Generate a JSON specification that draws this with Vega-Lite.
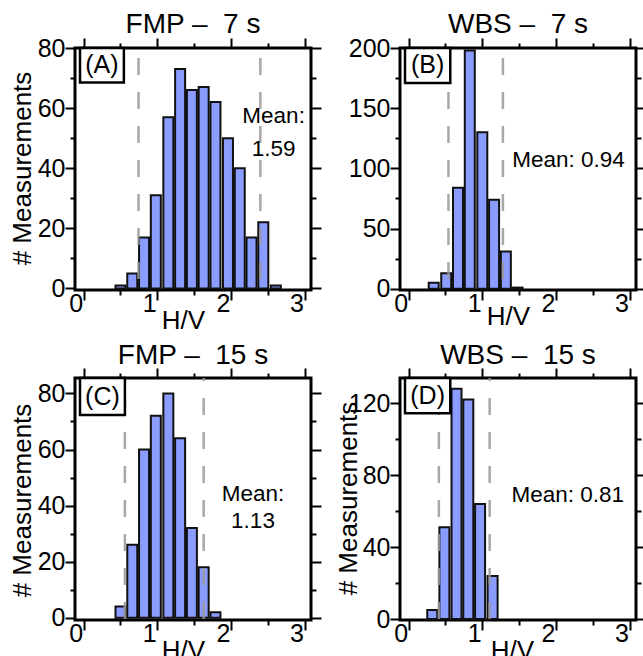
{
  "$schema": "https://vega.github.io/schema/vega-lite/v6.json",
  "padding": {"left": 7, "top": 9, "right": -5, "bottom": -8},
  "columns": 2,
  "spacing": {"row": 88, "column": 89},
  "bounds": "flush",
  "config": {
    "view": {"stroke": "black", "strokeWidth": 3},
    "axis": {"domain": false, "grid": false, "tickColor": "black", "tickWidth": 2, "labelFont": "Liberation Sans", "labelFontSize": 25, "labelColor": "black", "labelFlush": false, "labelOverlap": false, "titleFont": "Liberation Sans", "titleFontSize": 26, "titleFontWeight": "normal", "titleColor": "black"},
    "title": {"font": "Liberation Sans", "fontSize": 28, "fontWeight": "normal", "color": "black", "baseline": "alphabetic", "offset": -3, "anchor": "middle"},
    "text": {"font": "Liberation Sans", "color": "black"}
  },
  "concat": [
    {
      "title": "FMP –\u00a0 7 s",
      "width": 236, "height": 242,
      "resolve": {"axis": {"x": "independent", "y": "independent"}},
      "layer": [
        {
          "data": {"values": [
            {"hv": 0.50, "n": 1}, {"hv": 0.66, "n": 5}, {"hv": 0.82, "n": 17}, {"hv": 0.98, "n": 31},
            {"hv": 1.15, "n": 57}, {"hv": 1.31, "n": 73}, {"hv": 1.47, "n": 66}, {"hv": 1.63, "n": 67},
            {"hv": 1.79, "n": 62}, {"hv": 1.96, "n": 50}, {"hv": 2.12, "n": 40}, {"hv": 2.28, "n": 17},
            {"hv": 2.44, "n": 22}, {"hv": 2.61, "n": 1}
          ]},
          "mark": {"type": "bar", "size": 10, "fill": "#8b9cff", "stroke": "#111111", "strokeWidth": 2},
          "encoding": {
            "x": {"field": "hv", "type": "quantitative", "scale": {"domain": [-0.05, 3.02], "nice": false, "zero": false},
              "axis": {"orient": "bottom", "values": [0, 0.5, 1, 1.5, 2, 2.5, 3], "labelExpr": "datum.value % 1 === 0 ? '' + datum.value : ''", "tickSize": {"condition": {"test": "datum.value % 1 === 0", "value": 10}, "value": 5}, "labelOffset": -8, "labelPadding": -9, "labelBaseline": "top", "title": "H/V", "titleX": 108, "titleY": 38, "titleBaseline": "alphabetic", "titleAlign": "center"}},
            "y": {"field": "n", "type": "quantitative", "scale": {"domain": [-0.5, 80], "nice": false, "zero": false},
              "axis": {"orient": "left", "values": [0, 10, 20, 30, 40, 50, 60, 70, 80], "labelExpr": "datum.value % 20 === 0 ? '' + datum.value : ''", "tickSize": {"condition": {"test": "datum.value % 20 === 0", "value": 10}, "value": 5}, "labelPadding": 0, "labelBaseline": "middle", "title": "# Measurements", "titleX": -45, "titleY": 120, "titleBaseline": "alphabetic", "titleAngle": -90, "titleAlign": "center"}}
          }
        },
        {
          "data": {"values": [{"v": 0.745}, {"v": 2.40}]},
          "mark": {"type": "rule", "color": "#999999", "strokeWidth": 2.5, "strokeDash": [17, 17], "strokeDashOffset": 24, "opacity": 0.85},
          "encoding": {
            "x": {"field": "v", "type": "quantitative", "scale": {"domain": [-0.05, 3.02], "nice": false, "zero": false},
              "axis": {"orient": "top", "values": [0, 0.5, 1, 1.5, 2, 2.5, 3], "labels": false, "tickSize": {"condition": {"test": "datum.value % 1 === 0", "value": 10}, "value": 5}, "title": null}}
          }
        },
        {
          "data": {"values": [{"t": "Mean:\n1.59"}]},
          "mark": {"type": "text", "fontSize": 22.5, "lineBreak": "\n", "lineHeight": 33, "align": "center", "baseline": "middle"},
          "encoding": {
            "x": {"datum": 2.58, "type": "quantitative", "scale": {"domain": [-0.05, 3.02], "nice": false, "zero": false}, "axis": null},
            "y": {"datum": 57.5, "type": "quantitative", "scale": {"domain": [-0.5, 80], "nice": false, "zero": false},
              "axis": {"orient": "right", "values": [0, 10, 20, 30, 40, 50, 60, 70, 80], "labels": false, "tickSize": {"condition": {"test": "datum.value % 20 === 0", "value": 10}, "value": 5}, "title": null}},
            "text": {"field": "t"}
          }
        },
        {
          "data": {"values": [{"p": "(A)"}]},
          "mark": {"type": "rect", "fill": "white", "stroke": "black", "strokeWidth": 2.5},
          "encoding": {
            "x": {"datum": -0.05, "type": "quantitative", "scale": {"domain": [-0.05, 3.02], "nice": false, "zero": false}, "axis": null},
            "x2": {"datum": 0.546},
            "y": {"datum": 80, "type": "quantitative", "scale": {"domain": [-0.5, 80], "nice": false, "zero": false}, "axis": null},
            "y2": {"datum": 68.5}
          }
        },
        {
          "data": {"values": [{"p": "(A)"}]},
          "mark": {"type": "text", "fontSize": 25, "align": "center", "baseline": "middle"},
          "encoding": {
            "x": {"datum": 0.248, "type": "quantitative", "scale": {"domain": [-0.05, 3.02], "nice": false, "zero": false}, "axis": null},
            "y": {"datum": 74.25, "type": "quantitative", "scale": {"domain": [-0.5, 80], "nice": false, "zero": false}, "axis": null},
            "text": {"field": "p"}
          }
        }
      ]
    },
    {
      "title": "WBS –\u00a0 7 s",
      "width": 236, "height": 242,
      "resolve": {"axis": {"x": "independent", "y": "independent"}},
      "layer": [
        {
          "data": {"values": [
            {"hv": 0.34, "n": 5}, {"hv": 0.51, "n": 13}, {"hv": 0.67, "n": 84}, {"hv": 0.83, "n": 198},
            {"hv": 1.00, "n": 130}, {"hv": 1.16, "n": 74}, {"hv": 1.32, "n": 31}, {"hv": 1.48, "n": 1}
          ]},
          "mark": {"type": "bar", "size": 10, "fill": "#8b9cff", "stroke": "#111111", "strokeWidth": 2},
          "encoding": {
            "x": {"field": "hv", "type": "quantitative", "scale": {"domain": [-0.05, 3.02], "nice": false, "zero": false},
              "axis": {"orient": "bottom", "values": [0, 0.5, 1, 1.5, 2, 2.5, 3], "labelExpr": "datum.value % 1 === 0 ? '' + datum.value : ''", "tickSize": {"condition": {"test": "datum.value % 1 === 0", "value": 10}, "value": 5}, "labelOffset": -8, "labelPadding": -9, "labelBaseline": "top", "title": "H/V", "titleX": 108, "titleY": 34, "titleBaseline": "alphabetic", "titleAlign": "center"}},
            "y": {"field": "n", "type": "quantitative", "scale": {"domain": [-1, 200], "nice": false, "zero": false},
              "axis": {"orient": "left", "values": [0, 25, 50, 75, 100, 125, 150, 175, 200], "labelExpr": "datum.value % 50 === 0 ? '' + datum.value : ''", "tickSize": {"condition": {"test": "datum.value % 50 === 0", "value": 10}, "value": 5}, "labelPadding": 0, "labelBaseline": "middle", "title": null}}
          }
        },
        {
          "data": {"values": [{"v": 0.54}, {"v": 1.28}]},
          "mark": {"type": "rule", "color": "#999999", "strokeWidth": 2.5, "strokeDash": [17, 17], "strokeDashOffset": 24, "opacity": 0.85},
          "encoding": {
            "x": {"field": "v", "type": "quantitative", "scale": {"domain": [-0.05, 3.02], "nice": false, "zero": false},
              "axis": {"orient": "top", "values": [0, 0.5, 1, 1.5, 2, 2.5, 3], "labels": false, "tickSize": {"condition": {"test": "datum.value % 1 === 0", "value": 10}, "value": 5}, "title": null}}
          }
        },
        {
          "data": {"values": [{"t": "Mean: 0.94"}]},
          "mark": {"type": "text", "fontSize": 22.5, "align": "center", "baseline": "middle"},
          "encoding": {
            "x": {"datum": 2.17, "type": "quantitative", "scale": {"domain": [-0.05, 3.02], "nice": false, "zero": false}, "axis": null},
            "y": {"datum": 107, "type": "quantitative", "scale": {"domain": [-1, 200], "nice": false, "zero": false},
              "axis": {"orient": "right", "values": [0, 25, 50, 75, 100, 125, 150, 175, 200], "labels": false, "tickSize": {"condition": {"test": "datum.value % 50 === 0", "value": 10}, "value": 5}, "title": null}},
            "text": {"field": "t"}
          }
        },
        {
          "data": {"values": [{"p": "(B)"}]},
          "mark": {"type": "rect", "fill": "white", "stroke": "black", "strokeWidth": 2.5},
          "encoding": {
            "x": {"datum": -0.05, "type": "quantitative", "scale": {"domain": [-0.05, 3.02], "nice": false, "zero": false}, "axis": null},
            "x2": {"datum": 0.565},
            "y": {"datum": 200, "type": "quantitative", "scale": {"domain": [-1, 200], "nice": false, "zero": false}, "axis": null},
            "y2": {"datum": 171}
          }
        },
        {
          "data": {"values": [{"p": "(B)"}]},
          "mark": {"type": "text", "fontSize": 25, "align": "center", "baseline": "middle"},
          "encoding": {
            "x": {"datum": 0.2575, "type": "quantitative", "scale": {"domain": [-0.05, 3.02], "nice": false, "zero": false}, "axis": null},
            "y": {"datum": 185.5, "type": "quantitative", "scale": {"domain": [-1, 200], "nice": false, "zero": false}, "axis": null},
            "text": {"field": "p"}
          }
        }
      ]
    },
    {
      "title": "FMP –\u00a0 15 s",
      "width": 236, "height": 242,
      "resolve": {"axis": {"x": "independent", "y": "independent"}},
      "layer": [
        {
          "data": {"values": [
            {"hv": 0.50, "n": 4}, {"hv": 0.66, "n": 26}, {"hv": 0.82, "n": 60}, {"hv": 0.98, "n": 72},
            {"hv": 1.15, "n": 80}, {"hv": 1.31, "n": 64}, {"hv": 1.47, "n": 32}, {"hv": 1.63, "n": 18},
            {"hv": 1.79, "n": 2}
          ]},
          "mark": {"type": "bar", "size": 10, "fill": "#8b9cff", "stroke": "#111111", "strokeWidth": 2},
          "encoding": {
            "x": {"field": "hv", "type": "quantitative", "scale": {"domain": [-0.05, 3.02], "nice": false, "zero": false},
              "axis": {"orient": "bottom", "values": [0, 0.5, 1, 1.5, 2, 2.5, 3], "labelExpr": "datum.value % 1 === 0 ? '' + datum.value : ''", "tickSize": {"condition": {"test": "datum.value % 1 === 0", "value": 10}, "value": 5}, "labelOffset": -8, "labelPadding": -9, "labelBaseline": "top", "title": "H/V", "titleX": 108, "titleY": 38, "titleBaseline": "alphabetic", "titleAlign": "center"}},
            "y": {"field": "n", "type": "quantitative", "scale": {"domain": [-0.8, 85.5], "nice": false, "zero": false},
              "axis": {"orient": "left", "values": [0, 10, 20, 30, 40, 50, 60, 70, 80], "labelExpr": "datum.value % 20 === 0 ? '' + datum.value : ''", "tickSize": {"condition": {"test": "datum.value % 20 === 0", "value": 10}, "value": 5}, "labelPadding": 0, "labelBaseline": "middle", "title": "# Measurements", "titleX": -45, "titleY": 122, "titleBaseline": "alphabetic", "titleAngle": -90, "titleAlign": "center"}}
          }
        },
        {
          "data": {"values": [{"v": 0.56}, {"v": 1.63}]},
          "mark": {"type": "rule", "color": "#999999", "strokeWidth": 2.5, "strokeDash": [17, 17], "strokeDashOffset": 14, "opacity": 0.85},
          "encoding": {
            "x": {"field": "v", "type": "quantitative", "scale": {"domain": [-0.05, 3.02], "nice": false, "zero": false},
              "axis": {"orient": "top", "values": [0, 0.5, 1, 1.5, 2, 2.5, 3], "labels": false, "tickSize": {"condition": {"test": "datum.value % 1 === 0", "value": 10}, "value": 5}, "title": null}}
          }
        },
        {
          "data": {"values": [{"t": "Mean:\n1.13"}]},
          "mark": {"type": "text", "fontSize": 22.5, "lineBreak": "\n", "lineHeight": 27, "align": "center", "baseline": "middle"},
          "encoding": {
            "x": {"datum": 2.30, "type": "quantitative", "scale": {"domain": [-0.05, 3.02], "nice": false, "zero": false}, "axis": null},
            "y": {"datum": 44.2, "type": "quantitative", "scale": {"domain": [-0.8, 85.5], "nice": false, "zero": false},
              "axis": {"orient": "right", "values": [0, 10, 20, 30, 40, 50, 60, 70, 80], "labels": false, "tickSize": {"condition": {"test": "datum.value % 20 === 0", "value": 10}, "value": 5}, "title": null}},
            "text": {"field": "t"}
          }
        },
        {
          "data": {"values": [{"p": "(C)"}]},
          "mark": {"type": "rect", "fill": "white", "stroke": "black", "strokeWidth": 2.5},
          "encoding": {
            "x": {"datum": -0.05, "type": "quantitative", "scale": {"domain": [-0.05, 3.02], "nice": false, "zero": false}, "axis": null},
            "x2": {"datum": 0.56},
            "y": {"datum": 85.5, "type": "quantitative", "scale": {"domain": [-0.8, 85.5], "nice": false, "zero": false}, "axis": null},
            "y2": {"datum": 72.3}
          }
        },
        {
          "data": {"values": [{"p": "(C)"}]},
          "mark": {"type": "text", "fontSize": 25, "align": "center", "baseline": "middle"},
          "encoding": {
            "x": {"datum": 0.255, "type": "quantitative", "scale": {"domain": [-0.05, 3.02], "nice": false, "zero": false}, "axis": null},
            "y": {"datum": 78.9, "type": "quantitative", "scale": {"domain": [-0.8, 85.5], "nice": false, "zero": false}, "axis": null},
            "text": {"field": "p"}
          }
        }
      ]
    },
    {
      "title": "WBS –\u00a0 15 s",
      "width": 236, "height": 242,
      "resolve": {"axis": {"x": "independent", "y": "independent"}},
      "layer": [
        {
          "data": {"values": [
            {"hv": 0.32, "n": 5}, {"hv": 0.485, "n": 51}, {"hv": 0.65, "n": 128}, {"hv": 0.81, "n": 122},
            {"hv": 0.97, "n": 64}, {"hv": 1.14, "n": 24}
          ]},
          "mark": {"type": "bar", "size": 10, "fill": "#8b9cff", "stroke": "#111111", "strokeWidth": 2},
          "encoding": {
            "x": {"field": "hv", "type": "quantitative", "scale": {"domain": [-0.05, 3.02], "nice": false, "zero": false},
              "axis": {"orient": "bottom", "values": [0, 0.5, 1, 1.5, 2, 2.5, 3], "labelExpr": "datum.value % 1 === 0 ? '' + datum.value : ''", "tickSize": {"condition": {"test": "datum.value % 1 === 0", "value": 10}, "value": 5}, "labelOffset": -8, "labelPadding": -9, "labelBaseline": "top", "title": "H/V", "titleX": 112, "titleY": 38, "titleBaseline": "alphabetic", "titleAlign": "center"}},
            "y": {"field": "n", "type": "quantitative", "scale": {"domain": [-0.5, 134], "nice": false, "zero": false},
              "axis": {"orient": "left", "values": [0, 20, 40, 60, 80, 100, 120], "labelExpr": "datum.value % 40 === 0 ? '' + datum.value : ''", "tickSize": {"condition": {"test": "datum.value % 40 === 0", "value": 10}, "value": 5}, "labelPadding": 0, "labelBaseline": "middle", "title": "# Measurements", "titleX": -44, "titleY": 120, "titleBaseline": "alphabetic", "titleAngle": -90, "titleAlign": "center"}}
          }
        },
        {
          "data": {"values": [{"v": 0.41}, {"v": 1.10}]},
          "mark": {"type": "rule", "color": "#999999", "strokeWidth": 2.5, "strokeDash": [17, 17], "strokeDashOffset": 14, "opacity": 0.85},
          "encoding": {
            "x": {"field": "v", "type": "quantitative", "scale": {"domain": [-0.05, 3.02], "nice": false, "zero": false},
              "axis": {"orient": "top", "values": [0, 0.5, 1, 1.5, 2, 2.5, 3], "labels": false, "tickSize": {"condition": {"test": "datum.value % 1 === 0", "value": 10}, "value": 5}, "title": null}}
          }
        },
        {
          "data": {"values": [{"t": "Mean: 0.81"}]},
          "mark": {"type": "text", "fontSize": 22.5, "align": "center", "baseline": "middle"},
          "encoding": {
            "x": {"datum": 2.16, "type": "quantitative", "scale": {"domain": [-0.05, 3.02], "nice": false, "zero": false}, "axis": null},
            "y": {"datum": 68.9, "type": "quantitative", "scale": {"domain": [-0.5, 134], "nice": false, "zero": false},
              "axis": {"orient": "right", "values": [0, 20, 40, 60, 80, 100, 120], "labels": false, "tickSize": {"condition": {"test": "datum.value % 40 === 0", "value": 10}, "value": 5}, "title": null}},
            "text": {"field": "t"}
          }
        },
        {
          "data": {"values": [{"p": "(D)"}]},
          "mark": {"type": "rect", "fill": "white", "stroke": "black", "strokeWidth": 2.5},
          "encoding": {
            "x": {"datum": -0.05, "type": "quantitative", "scale": {"domain": [-0.05, 3.02], "nice": false, "zero": false}, "axis": null},
            "x2": {"datum": 0.565},
            "y": {"datum": 134, "type": "quantitative", "scale": {"domain": [-0.5, 134], "nice": false, "zero": false}, "axis": null},
            "y2": {"datum": 114.4}
          }
        },
        {
          "data": {"values": [{"p": "(D)"}]},
          "mark": {"type": "text", "fontSize": 25, "align": "center", "baseline": "middle"},
          "encoding": {
            "x": {"datum": 0.2575, "type": "quantitative", "scale": {"domain": [-0.05, 3.02], "nice": false, "zero": false}, "axis": null},
            "y": {"datum": 124.2, "type": "quantitative", "scale": {"domain": [-0.5, 134], "nice": false, "zero": false}, "axis": null},
            "text": {"field": "p"}
          }
        }
      ]
    }
  ]
}
